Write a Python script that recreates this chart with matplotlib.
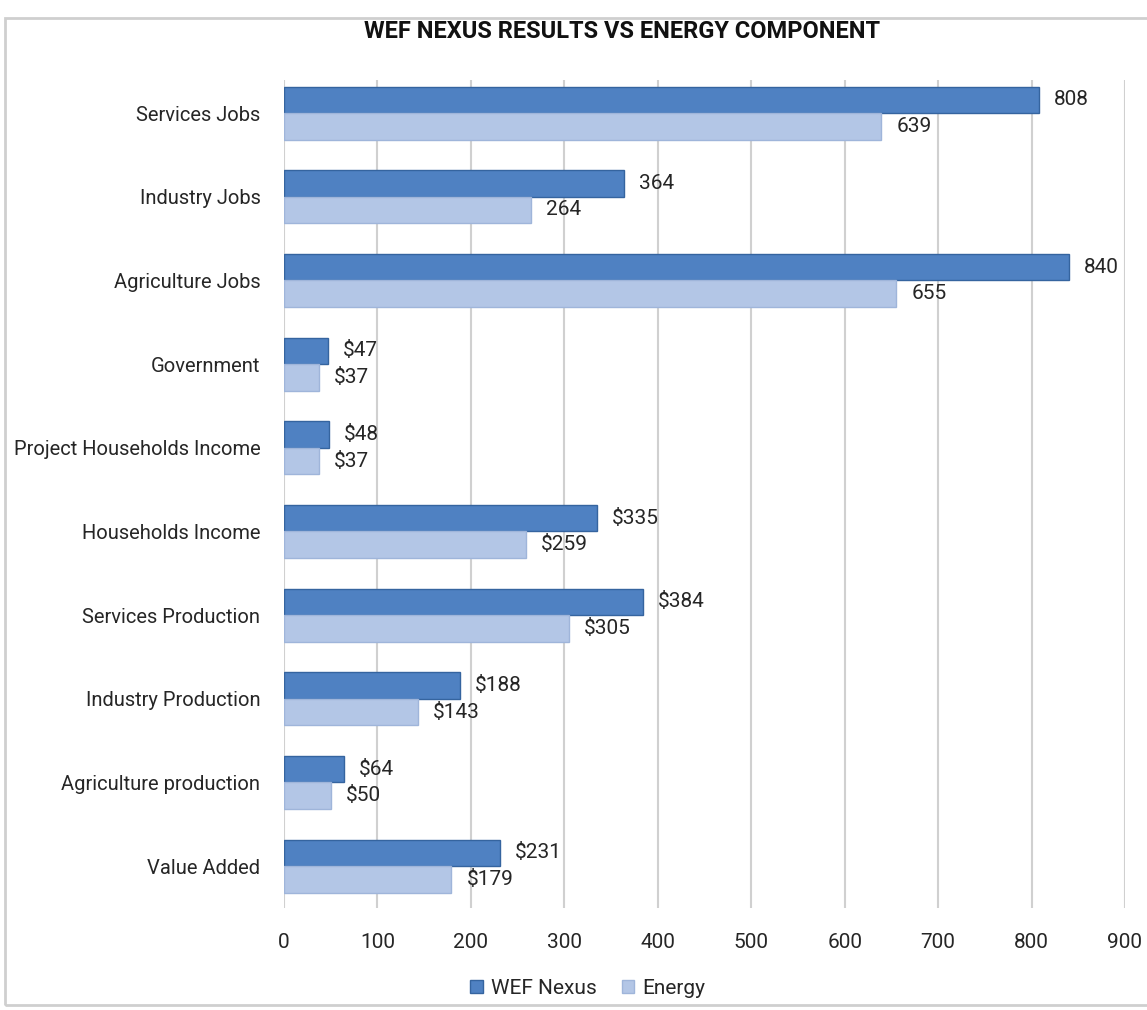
import matplotlib
matplotlib.use("Agg")
import matplotlib.pyplot as plt
from matplotlib.patches import Rectangle

# Dados do gráfico
categories = ["Services Jobs", "Industry Jobs", "Agriculture Jobs", "Government",
              "Project Households Income", "Households Income", "Services Production",
              "Industry Production", "Agriculture production", "Value Added"]
wef_nexus = [808, 364, 840, 47, 48, 335, 384, 188, 64, 231]
energy = [639, 264, 655, 37, 37, 259, 305, 143, 50, 179]
money = [False, False, False, True, True, True, True, True, True, True]
x_ticks = [0, 100, 200, 300, 400, 500, 600, 700, 800, 900]

plt.rcParams['font.family'] = ['Roboto', 'DejaVu Sans']

dark, dark_edge = "#4f81c2", "#35649f"
light, light_edge = "#b3c6e6", "#9fb5da"
text_color = "#262626"

fig = plt.figure(figsize=(11.47, 10.10), dpi=100)
ax = fig.add_axes([284 / 1147, 1 - 908 / 1010, (1125 - 284) / 1147, (908 - 80) / 1010])

# Moldura cinza em volta
fig.patches.append(Rectangle((5 / 1147, 5 / 1010), 1.0, 987 / 1010, transform=fig.transFigure,
                             fill=False, edgecolor="#cfcfcf", linewidth=2))

h = 0.317
ys = list(range(len(categories)))
ax.barh([y - h / 2 for y in ys], wef_nexus, height=h, color=dark, edgecolor=dark_edge,
        linewidth=1, label="WEF Nexus", zorder=3)
ax.barh([y + h / 2 for y in ys], energy, height=h, color=light, edgecolor=light_edge,
        linewidth=1, label="Energy", zorder=3)

for y, v1, v2, m in zip(ys, wef_nexus, energy, money):
    p = "$" if m else ""
    ax.annotate(f"{p}{v1}", (v1, y - h / 2), xytext=(11, 0), textcoords="offset points",
                va="center", ha="left", fontsize=15, color=text_color)
    ax.annotate(f"{p}{v2}", (v2, y + h / 2), xytext=(11, 0), textcoords="offset points",
                va="center", ha="left", fontsize=15, color=text_color)

ax.set_xlim(0, 900)
ax.set_ylim(9.5, -0.395)
ax.set_xticks(x_ticks)
ax.set_yticks(ys)
ax.set_yticklabels(categories)
ax.tick_params(axis="both", length=0, labelsize=15, colors=text_color)
ax.tick_params(axis="y", pad=17, labelsize=14.5)
ax.tick_params(axis="x", pad=18)
ax.grid(axis="x", color="#d0d0d0", linewidth=1.5, zorder=0)
for s in ax.spines.values():
    s.set_visible(False)

fig.text(622 / 1147, 1 - 32 / 1010, "WEF NEXUS RESULTS VS ENERGY COMPONENT", fontsize=17,
         fontweight="bold", color="#111111", ha="center", va="center")

fig.legend(loc="center", bbox_to_anchor=(588 / 1147, 1 - 988 / 1010), ncol=2, frameon=False,
           fontsize=15, handlelength=0.6, handleheight=0.6, handletextpad=0.4, columnspacing=1.2,
           labelcolor=text_color)

fig.savefig("out.png", dpi=100, facecolor="white")
